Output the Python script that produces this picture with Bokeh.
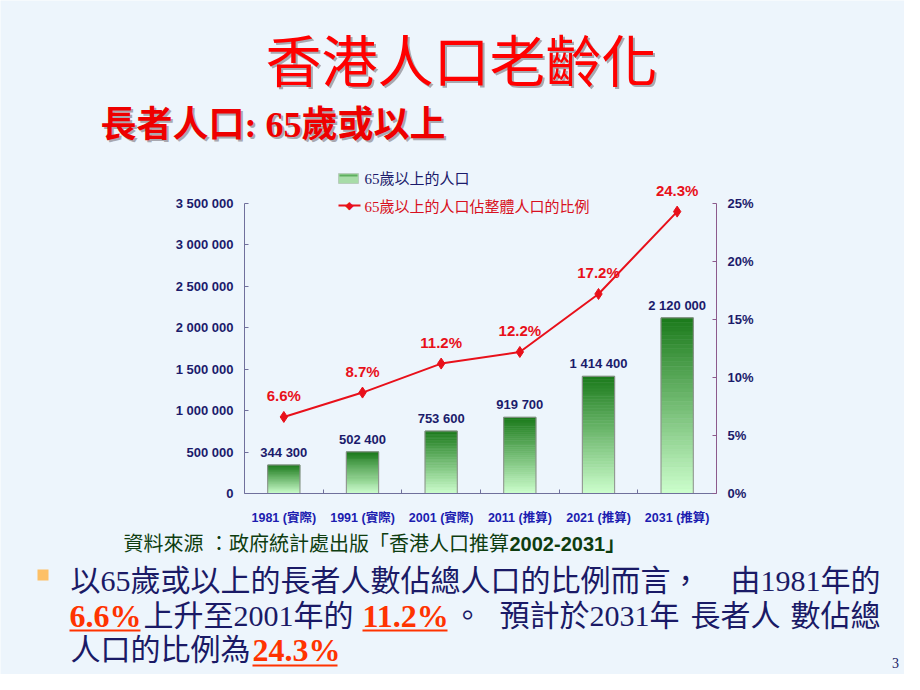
from bokeh.plotting import figure
from bokeh.models import (Range1d, LinearAxis, FixedTicker, Label, LabelSet,
                          ColumnDataSource, BoxAnnotation)
from bokeh.core.properties import value
from bokeh.embed import file_html
from bokeh.resources import INLINE

# ---------------- data ----------------
years = ["1981 (實際)", "1991 (實際)", "2001 (實際)", "2011 (推算)", "2021 (推算)", "2031 (推算)"]
elderly = [344300, 502400, 753600, 919700, 1414400, 2120000]
share = [6.6, 8.7, 11.2, 12.2, 17.2, 24.3]
left_ticks = [0, 500000, 1000000, 1500000, 2000000, 2500000, 3000000, 3500000]
left_tick_labels = ["0", "500 000", "1 000 000", "1 500 000", "2 000 000",
                    "2 500 000", "3 000 000", "3 500 000"]
right_ticks = [0, 5, 10, 15, 20, 25]
right_tick_labels = ["0%", "5%", "10%", "15%", "20%", "25%"]

# ---------------- style ----------------
BG = "#EDF5FC"
NAVY = "#1B1B6B"
RED = "#E8101A"
SANS = "Liberation Sans, 'Noto Sans CJK TC'"
SERIF = "Liberation Serif, 'Noto Sans CJK TC'"
CJK = "'Noto Sans CJK TC'"

W, H = 904, 674
# chart area in canvas pixels (the frame itself covers the whole canvas)
FL, FR, FT, FB = 244, 716, 203, 493
n = len(years)
YMAX = left_ticks[-1]
PMAX = right_ticks[-1]
xs_per_px = n / (FR - FL)
ys_per_px = YMAX / (FB - FT)
ps_per_px = PMAX / (FB - FT)

p = figure(width=W, height=H, output_backend="svg", toolbar_location=None,
           x_range=Range1d(-0.5 - FL * xs_per_px, n - 0.5 + (W - FR) * xs_per_px),
           y_range=Range1d(-(H - FB) * ys_per_px, YMAX + FT * ys_per_px),
           min_border=0, min_border_left=0, min_border_right=0,
           min_border_top=0, min_border_bottom=0,
           background_fill_color=BG, border_fill_color=BG,
           outline_line_color=None)
p.grid.visible = False
p.extra_y_ranges = {"pct": Range1d(-(H - FB) * ps_per_px, PMAX + FT * ps_per_px)}

# ---- left axis
ya = p.yaxis[0]
ya.fixed_location = -0.5
ya.bounds = (0, YMAX)
ya.ticker = FixedTicker(ticks=left_ticks)
ya.major_label_overrides = {t: l for t, l in zip(left_ticks, left_tick_labels)}
ya.axis_line_color = "#70709C"
ya.major_tick_line_color = "#70709C"
ya.major_tick_in = 4
ya.major_tick_out = 0
ya.minor_tick_line_color = None
ya.major_label_text_font = SANS
ya.major_label_text_font_style = "bold"
ya.major_label_text_font_size = "13px"
ya.major_label_text_color = NAVY
ya.major_label_standoff = 11

# ---- right axis
ra = LinearAxis(y_range_name="pct", ticker=FixedTicker(ticks=right_ticks))
ra.fixed_location = n - 0.5
ra.bounds = (0, PMAX)
ra.major_label_overrides = {t: l for t, l in zip(right_ticks, right_tick_labels)}
ra.axis_line_color = "#8C5A8C"
ra.major_tick_line_color = "#8C5A8C"
ra.major_tick_in = 4
ra.major_tick_out = 0
ra.minor_tick_line_color = None
ra.major_label_text_font = SANS
ra.major_label_text_font_style = "bold"
ra.major_label_text_font_size = "13px"
ra.major_label_text_color = NAVY
ra.major_label_standoff = 11
p.add_layout(ra, "right")

# ---- bottom axis
xa = p.xaxis[0]
xa.fixed_location = 0
xa.bounds = (-0.5, n - 0.5)
xa.ticker = FixedTicker(ticks=list(range(n)),
                        minor_ticks=[i + 0.5 for i in range(n - 1)])
xa.major_label_overrides = {i: y for i, y in enumerate(years)}
xa.axis_line_color = "#70709C"
xa.major_tick_line_color = None
xa.minor_tick_line_color = "#70709C"
xa.minor_tick_in = 4
xa.minor_tick_out = 0
xa.major_label_text_font = SANS
xa.major_label_text_font_style = "bold"
xa.major_label_text_font_size = "12.5px"
xa.major_label_text_color = "#1C1CB0"
xa.major_label_standoff = 11

# ---------------- bars with vertical gradient ----------------
N = 40
dark = (27, 122, 27)
light = (205, 255, 205)
gx, gb, gt, gc = [], [], [], []
for i, v in enumerate(elderly):
    for k in range(N):
        t = (k + 0.5) / N
        c = tuple(int(round(light[j] + (dark[j] - light[j]) * t)) for j in range(3))
        gx.append(i)
        gb.append(v * k / N)
        gt.append(v * (k + 1) / N)
        gc.append("#%02x%02x%02x" % c)
BW = 0.41
p.vbar(x=gx, bottom=gb, top=gt, width=BW, fill_color=gc, line_color=gc, line_width=0.6)
p.vbar(x=list(range(n)), top=elderly, width=BW, fill_color=None,
       line_color="#8E8E8E", line_width=1)

bar_src = ColumnDataSource(dict(x=list(range(n)), y=elderly,
                                t=["{:,}".format(v).replace(",", " ") for v in elderly]))
p.add_layout(LabelSet(x="x", y="y", text="t", source=bar_src, y_offset=5,
                      text_align="center", text_baseline="bottom",
                      text_font=value(SANS), text_font_style="bold",
                      text_font_size="13px", text_color=NAVY))

# ---------------- share line ----------------
p.line(x=list(range(n)), y=share, y_range_name="pct", line_color=RED, line_width=2)
p.scatter(x=list(range(n)), y=share, y_range_name="pct", marker="diamond",
          size=11, fill_color=RED, line_color=RED)
pct_src = ColumnDataSource(dict(x=list(range(n)), y=share,
                                t=["%.1f%%" % s for s in share]))
p.add_layout(LabelSet(x="x", y="y", text="t", source=pct_src, y_range_name="pct",
                      y_offset=13, text_align="center", text_baseline="bottom",
                      text_font=value(SANS), text_font_style="bold",
                      text_font_size="15px", text_color=RED))

# ---------------- decorations (canvas pixel coords) ----------------
def txt(X, Y, s, size, color, font=SERIF, style="normal", align="left", baseline="middle"):
    p.add_layout(Label(x=X, y=Y, x_units="canvas", y_units="canvas", text=s,
                       text_font=font, text_font_size=size, text_color=color,
                       text_font_style=style, text_align=align, text_baseline=baseline))

def box(L, R, T, B, color, line=None):
    p.add_layout(BoxAnnotation(left=L, right=R, top=T, bottom=B,
                               left_units="canvas", right_units="canvas",
                               top_units="canvas", bottom_units="canvas",
                               fill_color=color, fill_alpha=1.0,
                               line_color=line, line_width=1 if line else 0))

# title with shadow
txt(463, 59, "香港人口老齡化", "56px", "#A8A8B0", CJK, align="center")
txt(461, 57, "香港人口老齡化", "56px", "#FF0000", CJK, align="center")
# subtitle with shadow
txt(102, 126, "長者人口: 65歲或以上", "36px", "#A8A8B0", SERIF, "bold")
txt(100, 124, "長者人口: 65歲或以上", "36px", "#EE0000", SERIF, "bold")

# legend
box(338, 358, 173, 183, "#A8DCA8", "#8E8E8E")
box(339, 357, 174, 176, "#5FAE5F")
txt(364, 178, "65歲以上的人口", "15px", NAVY, SERIF)
box(338, 360, 204, 206, RED)
txt(349, 205, "◆", "11px", RED, "DejaVu Sans", align="center")
txt(364, 206, "65歲以上的人口佔整體人口的比例", "15px", "#D81020", SERIF)

# source note
txt(123, 543, "資料來源 ：政府統計處出版「香港人口推算", "20px", "#0E3D10", SANS)
txt(509, 543, "2002-2031」", "20px", "#0E3D10", SANS, "bold")

# bullet paragraph
box(37, 48, 569, 580, "#FDC066")
PC = "#FF3300"
PN = "#1A1A66"
txt(70, 580, "以65歲或以上的長者人數佔總人口的比例而言，", "30px", PN)
txt(880, 580, "由1981年的", "30px", PN, align="right")
txt(69, 615, "6.6%", "32px", PC, style="bold")
box(69, 140, 629, 631, PC)
txt(143, 615, "上升至2001年的", "30px", PN)
txt(362, 615, "11.2%", "32px", PC, style="bold")
box(362, 447, 629, 631, PC)
txt(452, 615, "。", "30px", PN)
txt(499, 615, "預計於2031年", "30px", PN)
txt(690, 615, "長者人", "30px", PN)
txt(880, 615, "數佔總", "30px", PN, align="right")
txt(70, 649, "人口的比例為", "30px", PN)
txt(252, 649, "24.3%", "32px", PC, style="bold")
box(252, 337, 664, 666, PC)

# page number
txt(895, 662, "3", "14px", PN, align="center")

open("out.html", "w").write(file_html(p, INLINE))
